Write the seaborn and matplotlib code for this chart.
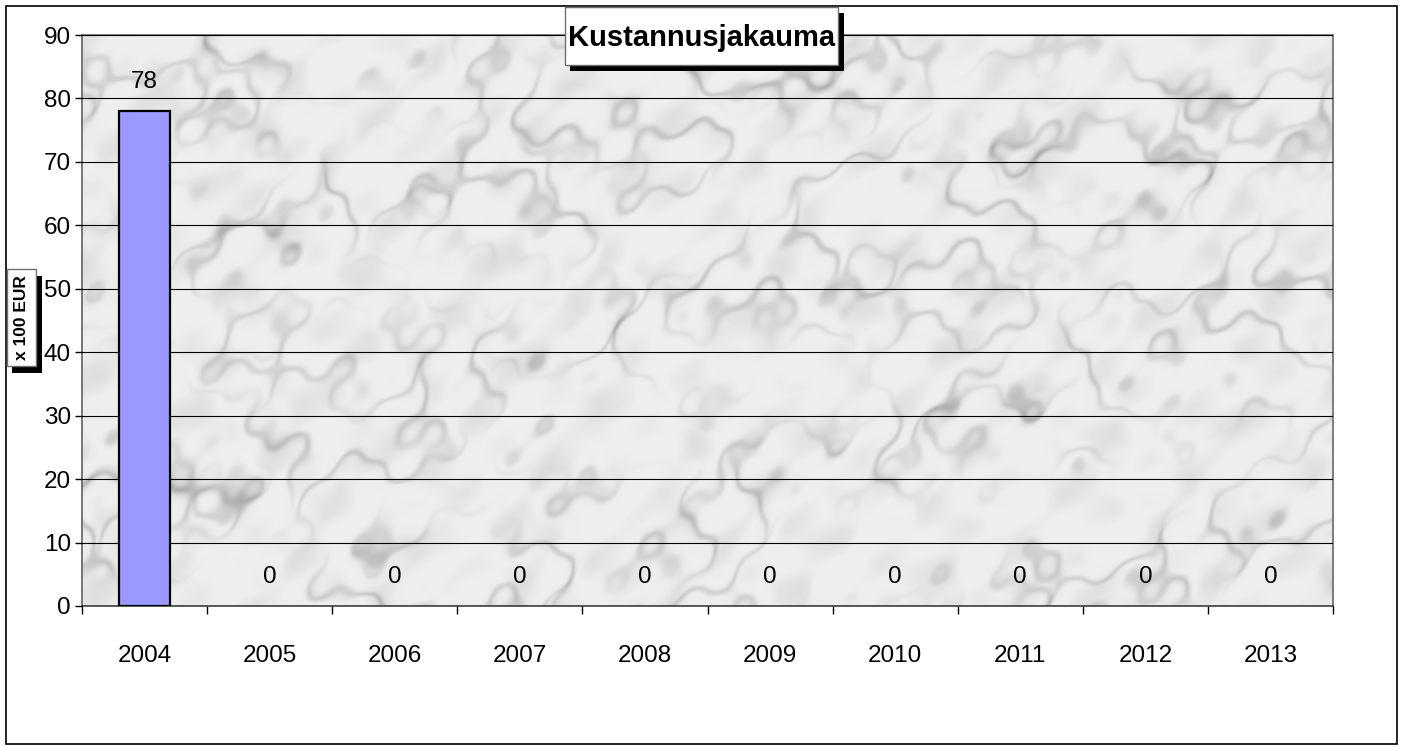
'''
Cost distribution bar chart (Kustannusjakauma) with marble plot background.
'''
import numpy as np
import pandas as pd
import matplotlib
matplotlib.use("Agg")
import matplotlib.pyplot as plt
from matplotlib.patches import Rectangle
import seaborn as sns

# chart data
years = ["2004", "2005", "2006", "2007", "2008", "2009", "2010", "2011", "2012", "2013"]
costs = [78, 0, 0, 0, 0, 0, 0, 0, 0, 0]
title_text = "Kustannusjakauma"
ylabel_text = "x 100 EUR"

W, H = 1405, 747


def marble_texture(h, w):
    '''
    Deterministic soft marble texture built from sine sums (decoration only).
    '''
    y, x = np.mgrid[0:h, 0:w].astype(float)
    turb = (0.60 * np.sin(0.013 * x + 0.021 * y)
            + 0.45 * np.sin(0.029 * x - 0.017 * y + 1.7)
            + 0.30 * np.sin(0.047 * x + 0.061 * y + 0.4)
            + 0.20 * np.sin(0.083 * x - 0.071 * y + 2.9)
            + 0.12 * np.sin(0.15 * x + 0.13 * y + 1.1))
    # soft diagonal veins
    v1 = np.sin(0.020 * x - 0.016 * y + 2.0 * turb)
    v2 = np.sin(0.012 * x + 0.018 * y + 1.6 * turb + 0.8)
    vein = np.exp(-(v1 / 0.30) ** 2) * (0.5 + 0.5 * np.sin(0.01 * x + 0.03 * y + turb))
    vein2 = np.exp(-(v2 / 0.22) ** 2) * (0.5 + 0.5 * np.sin(0.02 * x - 0.01 * y + 2 * turb))
    # blotchy mid-frequency clouds
    clouds = (np.sin(0.061 * x + 0.037 * y + 1.5 * turb)
              + np.sin(0.043 * x - 0.079 * y + 1.2 * turb + 2.0)
              + np.sin(0.107 * x + 0.091 * y + turb)) / 3
    val = 0.93 - 0.14 * vein - 0.11 * vein2 - 0.06 * np.clip(clouds, 0, 1)
    return np.clip(val, 0, 1)


def px_box(fig, x0, y0, x1, y1, **kw):
    '''Rectangle given in pixels from the top-left corner of the figure.'''
    r = Rectangle((x0 / W, 1 - y1 / H), (x1 - x0) / W, (y1 - y0) / H,
                  transform=fig.transFigure, **kw)
    fig.patches.append(r)
    return r


sns.set_style("white")
plt.rcParams['font.family'] = ['Liberation Sans', 'DejaVu Sans']
plt.rcParams['text.color'] = 'black'
plt.rcParams['xtick.color'] = 'black'
plt.rcParams['ytick.color'] = 'black'

df = pd.DataFrame({"Year": years, "Cost": costs})

fig = plt.figure(figsize=(W / 100, H / 100), dpi=100)
ax = fig.add_axes([82 / W, 1 - 606 / H, (1333 - 82) / W, (606 - 35) / H])

# marble background
tex = marble_texture(571, 1251)
ax.imshow(tex, cmap="gray", vmin=0, vmax=1, extent=(-0.5, 9.5, 0, 90),
          aspect="auto", interpolation="bilinear", zorder=0)

sns.barplot(data=df, x="Year", y="Cost", color="#9999FF", edgecolor="black",
            linewidth=1.6, width=0.41, saturation=1, ax=ax, zorder=3)
# empty bars draw nothing
for patch, v in zip(ax.patches, costs):
    if v == 0:
        patch.set_linewidth(0)

ax.set_xlim(-0.5, 9.5)
ax.set_ylim(0, 90)
ax.set_yticks(range(0, 91, 10))
ax.yaxis.grid(True, color="black", linewidth=0.8)
ax.set_axisbelow(False)
for line in ax.get_ygridlines():
    line.set_zorder(1)

ax.set_xlabel("")
ax.set_ylabel("")
ax.set_xticks(np.arange(-0.5, 10, 1), minor=True)
ax.tick_params(axis="x", which="major", length=0, pad=28, labelsize=17.5)
ax.tick_params(axis="x", which="minor", length=6, width=1, color="black", direction="out", bottom=True)
ax.tick_params(axis="y", length=5, width=1, color="black", direction="out", pad=3, labelsize=17.5, left=True)

for side in ["top", "right"]:
    ax.spines[side].set_color("#808080")
    ax.spines[side].set_linewidth(1.5)
ax.spines["left"].set_color("#606060")
ax.spines["left"].set_linewidth(1.2)
ax.spines["bottom"].set_color("#404040")
ax.spines["bottom"].set_linewidth(1.2)

# value labels
for i, v in enumerate(costs):
    ax.annotate(f"{v:.0f}", (i, v), xytext=(0, 21), textcoords="offset points",
                ha="center", va="center", fontsize=17.5, zorder=5)

# outer chart border
px_box(fig, 6, 6, 1397, 744, fill=False, edgecolor="black", linewidth=1.2)

# title box with shadow
px_box(fig, 570, 13, 844, 71, facecolor="black", edgecolor="none", zorder=10)
px_box(fig, 565, 7, 838, 65, facecolor="white", edgecolor="#707070", linewidth=1, zorder=11)
fig.text(702 / W, 1 - 38 / H, title_text, ha="center", va="center",
         fontsize=21, fontweight="bold", zorder=12)

# y label box with shadow
px_box(fig, 12, 276, 42, 373, facecolor="black", edgecolor="none", zorder=10)
px_box(fig, 7, 269, 36, 366, facecolor="white", edgecolor="#707070", linewidth=1, zorder=11)
fig.text(22 / W, 1 - 318 / H, ylabel_text, ha="center", va="center", rotation=90,
         fontsize=12.5, fontweight="bold", zorder=12)

plt.savefig("out.png", dpi=100)
plt.close()
